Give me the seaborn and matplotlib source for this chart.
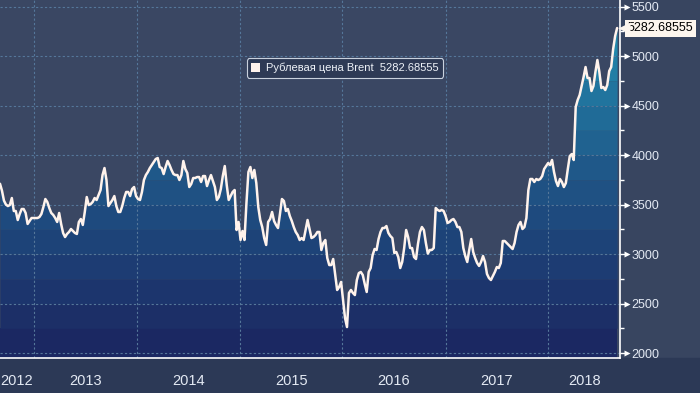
import matplotlib.pyplot as plt
import matplotlib.dates as mdates
from matplotlib.patches import Patch
import seaborn as sns
import numpy as np
import pandas as pd

# weekly ruble price of Brent (Sep 2012 - Aug 2018)
price = [
    3710, 3640, 3540, 3500, 3485, 3495, 3566, 3435, 3435, 3344,
    3405, 3455, 3455, 3415, 3304, 3334, 3364, 3364, 3364, 3364,
    3374, 3405, 3475, 3556, 3526, 3465, 3415, 3395, 3364, 3324,
    3415, 3304, 3213, 3172, 3203, 3223, 3253, 3233, 3213, 3203,
    3324, 3354, 3294, 3425, 3576, 3495, 3505, 3526, 3566, 3546,
    3596, 3647, 3798, 3869, 3748, 3485, 3516, 3546, 3586, 3485,
    3425, 3425, 3485, 3566, 3627, 3627, 3586, 3657, 3677, 3586,
    3556, 3546, 3627, 3748, 3798, 3829, 3869, 3899, 3930, 3960,
    3970, 3879, 3869, 3808, 3879, 3940, 3899, 3849, 3808, 3798,
    3798, 3748, 3798, 3940, 3859, 3819, 3677, 3708, 3768, 3768,
    3778, 3778, 3728, 3788, 3788, 3687, 3748, 3798, 3738, 3677,
    3546, 3576, 3657, 3788, 3889, 3697, 3546, 3586, 3627, 3647,
    3243, 3324, 3142, 3233, 3142, 3516, 3829, 3879, 3768, 3849,
    3717, 3475, 3344, 3273, 3162, 3092, 3324, 3354, 3425, 3334,
    3294, 3263, 3405, 3556, 3536, 3435, 3455, 3384, 3334, 3273,
    3223, 3192, 3142, 3162, 3142, 3243, 3344, 3253, 3162, 3172,
    3192, 3223, 3223, 3041, 3112, 3142, 2960, 2889, 2889, 2950,
    2789, 2637, 2667, 2718, 2536, 2354, 2263, 2607, 2637, 2607,
    2586, 2738, 2808, 2819, 2788, 2698, 2617, 2819, 2859, 2990,
    3051, 3041, 3152, 3223, 3263, 3263, 3283, 3213, 3182, 3162,
    3011, 3021, 2970, 2859, 2920, 3061, 3243, 3172, 3061, 3061,
    2970, 2950, 3102, 3223, 3273, 3243, 3112, 3005, 3041, 3041,
    3061, 3465, 3445, 3435, 3445, 3435, 3384, 3314, 3324, 3344,
    3354, 3324, 3273, 3273, 3223, 3061, 2980, 2920, 3041, 3152,
    3021, 2960, 2910, 2880, 2920, 2980, 2920, 2799, 2758, 2738,
    2778, 2819, 2869, 2859, 2910, 3132, 3132, 3112, 3092, 3071,
    3051, 3112, 3223, 3294, 3324, 3253, 3273, 3364, 3647, 3758,
    3758, 3728, 3758, 3748, 3758, 3788, 3859, 3889, 3919, 3899,
    3950, 3829, 3738, 3687, 3758, 3728, 3677, 3717, 3859, 3990,
    4010, 3950, 4485, 4556, 4606, 4697, 4788, 4889, 4778, 4778,
    4647, 4697, 4839, 4960, 4839, 4677, 4687, 4657, 4707, 4849,
    4889, 5071, 5202, 5282.68555,
]
dates = pd.date_range('2012-09-02', periods=len(price), freq='W')
years = [2012, 2013, 2014, 2015, 2016, 2017, 2018]
series_name = 'Рублевая цена Brent'

sns.set_style('dark')
plt.rcParams['font.family'] = ['Liberation Sans', 'DejaVu Sans']

fig = plt.figure(figsize=(7, 3.93), dpi=100, facecolor='#384560')
ax = fig.add_axes([0, 0.089, 0.886, 0.911])
ax.set_facecolor('#3a4763')
fig.patches.append(plt.Rectangle((0, 0), 1, 0.089, transform=fig.transFigure,
                                 color='#2c3956', zorder=-1))

x0, x1 = dates[0], pd.Timestamp('2018-09-13')
ax.set_xlim(x0, x1)
ax.set_ylim(1950, 5566)

# banded fill under the line, one band per 250 rubles
y = np.array(price)
lows = [1950] + list(range(2250, 5500, 250))
highs = list(range(2250, 5750, 250))
band_colors = sns.blend_palette(['#1b2862', '#1f5486', '#2290b2'], len(lows))
for lo, hi, c in zip(lows, highs, band_colors):
    ax.fill_between(dates, lo, np.clip(y, lo, hi), color=c, lw=0, zorder=1)

sns.lineplot(x=dates, y=y, color='#fff3ec', lw=1.8, ax=ax, zorder=3)

ax.set_axisbelow('line')
ax.grid(True, which='major', color='#55779a', ls=(0, (2, 2)), lw=0.8)

# y axis on the right
ax.yaxis.tick_right()
ax.set_yticks(np.arange(2000, 5501, 500))
ax.set_yticks(np.arange(2250, 5500, 500), minor=True)
ax.tick_params(axis='y', which='major', length=3.5, width=1, color='white',
               labelcolor='#e3e9f3', labelsize=9, pad=4.5)
ax.tick_params(axis='y', which='minor', length=3, width=1, color='white')
for v in ax.get_yticks():
    ax.plot([1.011], [v], marker='>', ms=5, color='white', mec='none',
            transform=ax.get_yaxis_transform(), clip_on=False)

# x axis: long separators at year starts, quarter ticks, year names in between
ax.xaxis.set_major_locator(mdates.YearLocator())
ax.xaxis.set_minor_locator(mdates.MonthLocator(bymonth=[1, 4, 7, 10]))
ax.tick_params(axis='x', which='major', length=25, width=0.8, color='#7d879b',
               labelbottom=False)
ax.tick_params(axis='x', which='minor', length=3, width=0.8, color='white')
for yr in years:
    a = max(pd.Timestamp(f'{yr}-01-01'), x0)
    b = min(pd.Timestamp(f'{yr + 1}-01-01'), x1)
    ax.text(a + (b - a) / 2, -0.064, str(yr), transform=ax.get_xaxis_transform(),
            ha='center', va='center', color='#e3e9f3', fontsize=10.5,
            family=['Liberation Sans Narrow', 'DejaVu Sans Condensed',
                    'Liberation Sans'])
ax.set_xlabel('')
ax.set_ylabel('')

for s in ['left', 'top']:
    ax.spines[s].set_visible(False)
for s in ['right', 'bottom']:
    ax.spines[s].set_visible(True)
    ax.spines[s].set_color('white')
    ax.spines[s].set_linewidth(1.2)

# last value tag
last = price[-1]
ax.plot([1.006], [last], marker='<', ms=8, color='#fdf6ee', mec='none',
        transform=ax.get_yaxis_transform(), clip_on=False, zorder=5)
ax.annotate(f'{last:.5f}', xy=(1.0, last), xycoords=('axes fraction', 'data'),
            xytext=(5.5, 0), textcoords='offset points', ha='left', va='center',
            fontsize=9, color='black', annotation_clip=False,
            bbox=dict(boxstyle='square,pad=0.2', fc='#fdf6ee', ec='none'))

leg = ax.legend(handles=[Patch(facecolor='#fff3ec', edgecolor='none',
                               label=f'{series_name}  {last:.5f}')],
                loc='center', bbox_to_anchor=(0.556, 0.81), fontsize=8,
                handlelength=0.8, handleheight=0.8, handletextpad=0.5,
                frameon=True, fancybox=True, framealpha=1,
                facecolor='#2e3a55', edgecolor='#c9d1dd', labelcolor='#eef2f8')
leg.get_frame().set_linewidth(0.8)

fig.savefig('out.png', dpi=100, facecolor=fig.get_facecolor())
